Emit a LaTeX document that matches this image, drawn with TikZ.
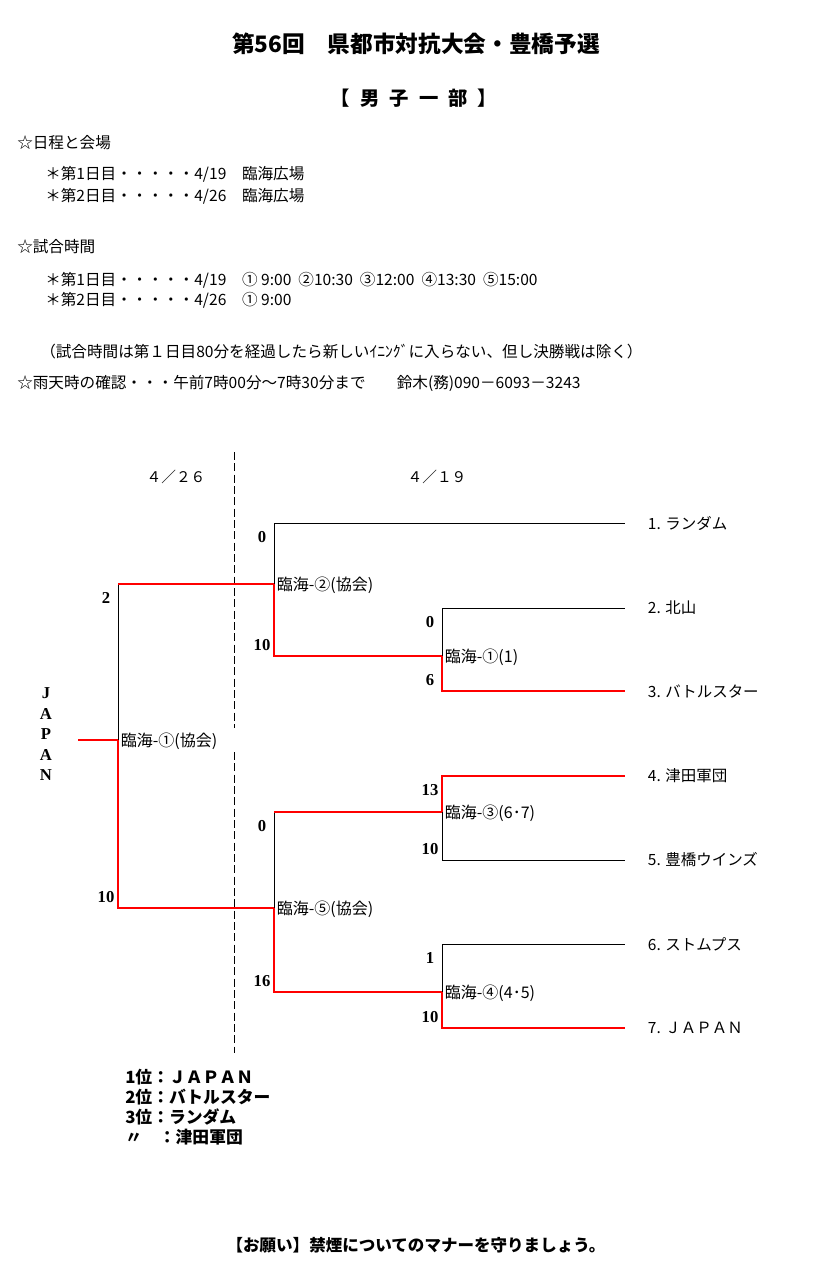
\documentclass[tikz,border=0pt]{standalone}
\usepackage{fontspec}
\setmainfont{Noto Sans CJK JP}
\newfontfamily\numfont{Liberation Serif}
\usetikzlibrary{positioning}

\begin{document}
\begin{tikzpicture}[
    x=0.75pt, y=-0.75pt,
    title/.style={inner sep=0pt, font=\bfseries\fontsize{17}{20}\selectfont},
    subtitle/.style={inner sep=0pt, font=\bfseries\fontsize{14.5}{17}\selectfont},
    info/.style={anchor=west, inner sep=0pt, font=\fontsize{11.7}{13}\selectfont},
    daylbl/.style={inner sep=0pt, font=\fontsize{11}{13}\selectfont},
    team/.style={anchor=west, inner sep=0pt, font=\fontsize{11.6}{13}\selectfont},
    matchlbl/.style={right=2pt, yshift=-1pt, inner sep=0pt, font=\fontsize{12}{13}\selectfont},
    score/.style={inner sep=0pt, xshift=-9pt, font=\numfont\bfseries\fontsize{12.5}{14}\selectfont},
    hiscore/.style={score, below=6pt},
    loscore/.style={score, above=4pt},
    vert/.style={inner sep=0pt, font=\numfont\bfseries\fontsize{12.5}{14}\selectfont},
    result/.style={anchor=west, inner sep=0pt, font=\bfseries\fontsize{12.6}{14}\selectfont},
    footer/.style={inner sep=0pt, font=\bfseries\fontsize{12.4}{14}\selectfont},
    lose/.style={draw=black, line width=0.75pt},
    win/.style={draw=red, line width=1.6pt},
    divider/.style={draw=black, line width=0.75pt, dash pattern=on 6pt off 2.5pt}
]
    \useasboundingbox (0,0) rectangle (833,1267);

    % --- HEADER ---
    \node[title] (title) at (416,44) {第56回　県都市対抗大会・豊橋予選};
    \node[subtitle] (division) at (414,98) {【\hspace{0.52em}男\hspace{0.52em}子\hspace{0.52em}一\hspace{0.52em}部\hspace{0.52em}】};

    \node[info] (sched) at (17,143) {☆日程と会場};
    \node[info] (day1) at (45,174) {＊第1日目・・・・・4/19　臨海広場};
    \node[info] (day2) at (45,196) {＊第2日目・・・・・4/26　臨海広場};

    \node[info] (times) at (17,247) {☆試合時間};
    \node[info] (time1) at (45,280) {＊第1日目・・・・・4/19　① 9:00\ \ ②10:30\ \ ③12:00\ \ ④13:30\ \ ⑤15:00};
    \node[info] (time2) at (45,300) {＊第2日目・・・・・4/26　① 9:00};

    \node[info] (rule) at (40,352) {（試合時間は第１日目80分を経過したら新しいｲﾆﾝｸﾞに入らない、但し決勝戦は除く）};
    \node[info] (rain) at (17,383) {☆雨天時の確認・・・午前7時00分～7時30分まで　　鈴木(務)090－6093－3243};

    % --- DAYS ---
    \node[daylbl] (d426) at (176,477) {４／２６};
    \node[daylbl] (d419) at (437,477) {４／１９};
    \coordinate (dv1) at (234,452);
    \coordinate (dv2) at (234,728);
    \coordinate (dv3) at (234,752);
    \coordinate (dv4) at (234,1053);
    \draw[divider] (dv1) -- (dv2);
    \draw[divider] (dv3) -- (dv4);

    % --- TEAMS ---
    \foreach \i/\y/\name in {1/523/1. ランダム, 2/608/2. 北山, 3/691/3. バトルスター,
        4/776/4. 津田軍団, 5/860/5. 豊橋ウインズ, 6/944/6. ストムプス, 7/1028/7. ＪＡＰＡＮ} {
        \coordinate (e\i) at (625,\y);
        \node[team, right=17pt of e\i] (t\i) {\name};
    }

    % junctions
    \coordinate (m1) at (442,656);
    \coordinate (m3) at (442,812);
    \coordinate (m4) at (442,992);
    \coordinate (m2) at (274,584);
    \coordinate (m5) at (274,908);
    \coordinate (m0) at (118,740);
    \coordinate (champ) at (78,740);

    % --- ROUND 1 (4/19) ---
    \draw[lose] (m1) |- (e2);
    \draw[win] (m1) |- (e3);
    \draw[win] (m3) |- (e4);
    \draw[lose] (m3) |- (e5);
    \draw[lose] (m4) |- (e6);
    \draw[win] (m4) |- (e7);

    \path (m1) node[matchlbl] (g1) {臨海-①(1)};
    \path (m3) node[matchlbl] (g3) {臨海-③(6･7)};
    \path (m4) node[matchlbl] (g4) {臨海-④(4･5)};

    \path (m1 |- e2) node[hiscore] (s2) {0};
    \path (m1 |- e3) node[loscore] (s3) {6};
    \path (m3 |- e4) node[hiscore] (s4) {13};
    \path (m3 |- e5) node[loscore] (s5) {10};
    \path (m4 |- e6) node[hiscore] (s6) {1};
    \path (m4 |- e7) node[loscore] (s7) {10};

    % --- ROUND 2 ---
    \draw[lose] (m2) |- (e1);
    \draw[win] (m2) |- (m1);
    \draw[lose] (m5) -- (m5 |- m3);
    \draw[win] (m5 |- m3) -- (m3);
    \draw[win] (m5) |- (m4);

    \path (m2) node[matchlbl] (g2) {臨海-②(協会)};
    \path (m5) node[matchlbl] (g5) {臨海-⑤(協会)};

    \path (m2 |- e1) node[hiscore] (s1) {0};
    \path (m2 |- m1) node[loscore] (s8) {10};
    \path (m5 |- m3) node[hiscore] (s9) {0};
    \path (m5 |- m4) node[loscore] (s10) {16};

    % --- FINAL (4/26) ---
    \draw[lose] (m0) -- (m0 |- m2);
    \draw[win] (m0 |- m2) -- (m2);
    \draw[win] (m0) |- (m5);
    \draw[win] (champ) -- (m0);

    \path (m0) node[matchlbl] (g0) {臨海-①(協会)};
    \path (m0 |- m2) node[hiscore] (s11) {2};
    \path (m0 |- m5) node[loscore] (s12) {10};

    \foreach \l [count=\k] in {J,A,P,A,N} {
        \node[vert] (v\k) at (46,672.5+20.5*\k) {\l};
    }

    % --- RESULTS ---
    \node[result] (r1) at (125,1077) {1位：ＪＡＰＡＮ};
    \node[result] (r2) at (125,1097) {2位：バトルスター};
    \node[result] (r3) at (125,1117) {3位：ランダム};
    \node[result] (r4) at (125,1137) {〃　：津田軍団};

    \node[footer] (note) at (416,1245) {【お願い】禁煙についてのマナーを守りましょう。};

\end{tikzpicture}
\end{document}
